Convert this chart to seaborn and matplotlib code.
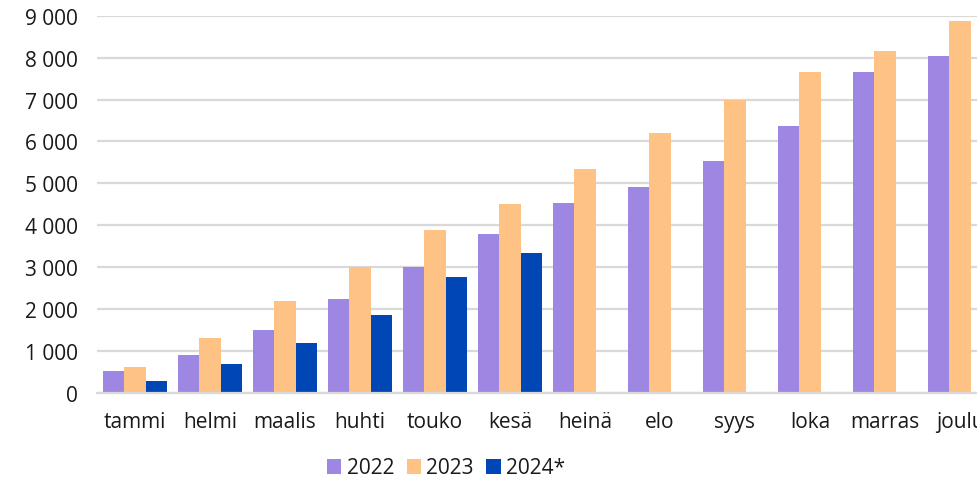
import numpy as np
import pandas as pd
import matplotlib
matplotlib.use("Agg")
import matplotlib.pyplot as plt
import seaborn as sns
from matplotlib.ticker import FuncFormatter, MultipleLocator

months = ["tammi", "helmi", "maalis", "huhti", "touko", "kesä",
          "heinä", "elo", "syys", "loka", "marras", "joulu"]
v2022 = [520, 900, 1500, 2240, 3010, 3790, 4530, 4910, 5530, 6360, 7650, 8040]
v2023 = [630, 1310, 2200, 3010, 3890, 4510, 5350, 6200, 6980, 7660, 8150, 8880]
v2024 = [290, 680, 1190, 1860, 2760, 3330]
series = ["2022", "2023", "2024*"]
colors = ["#9E86E3", "#FFC285", "#0047B5"]

rows = []
for m, v in zip(months, v2022):
    rows.append((m, "2022", v))
for m, v in zip(months, v2023):
    rows.append((m, "2023", v))
for m, v in zip(months, v2024):
    rows.append((m, "2024*", v))
df = pd.DataFrame(rows, columns=["kk", "vuosi", "arvo"])

sns.set_theme(style="white")
plt.rcParams["font.family"] = ["Open Sans", "DejaVu Sans"]

fig = plt.figure(figsize=(9.78, 4.81), dpi=100)
W, H = 978, 481
ax = fig.add_axes([97.5 / W, (H - 394) / H, 900 / W, (394 - 16.7) / H])

sns.barplot(data=df, x="kk", y="arvo", hue="vuosi", order=months,
            hue_order=series, palette=colors, width=0.845, ax=ax,
            saturation=1, edgecolor="none", legend=True)

ax.set_xlim(-0.5, 11.5)
ax.set_ylim(0, 9000)
ax.yaxis.set_major_locator(MultipleLocator(1000))
ax.yaxis.set_major_formatter(FuncFormatter(lambda v, p: f"{int(v):,}".replace(",", " ")))
ax.grid(axis="y", color="#D9D9D9", linewidth=1.6)
ax.set_axisbelow(True)
for s in ["left", "right", "top"]:
    ax.spines[s].set_visible(False)
ax.spines["bottom"].set_color("#D9D9D9")
ax.spines["bottom"].set_linewidth(1.6)
ax.set_xlabel("")
ax.set_ylabel("")
ax.tick_params(axis="y", length=0, pad=14, labelsize=15, labelcolor="#1a1a1a")
ax.tick_params(axis="x", length=0, pad=13, labelsize=15, labelcolor="#1a1a1a")

handles, labels = ax.get_legend_handles_labels()
ax.get_legend().remove()
fig.legend(handles, labels, loc="center", bbox_to_anchor=(446 / W, 1 - 469 / H),
           ncol=3, frameon=False, fontsize=15, handlelength=0.7,
           handleheight=0.7, handletextpad=0.25, columnspacing=0.6,
           labelcolor="#1a1a1a")

fig.savefig("out.png", dpi=100)
